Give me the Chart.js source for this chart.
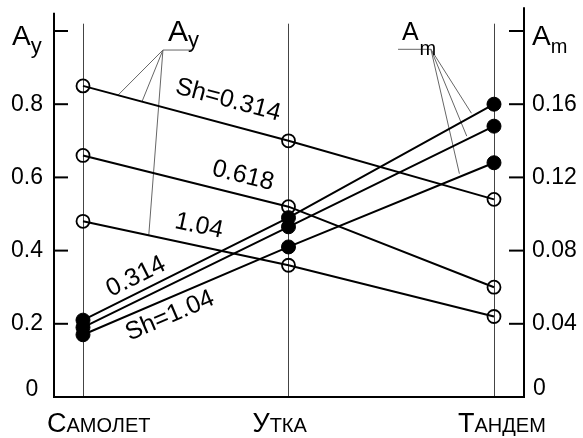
<!DOCTYPE html>
<html>
<head>
<meta charset="utf-8">
<script src="https://cdn.jsdelivr.net/npm/chart.js@4/dist/chart.umd.min.js"></script>
<style>
  html, body { margin: 0; padding: 0; background: #fff; }
  #wrap { width: 583px; height: 438px; }
</style>
</head>
<body>
<div id="wrap"><canvas id="c" width="583" height="438"></canvas></div>
<script>
// Aircraft layouts along the horizontal axis
const categories = ['Самолет', 'Утка', 'Тандем'];
// Sh values that label each curve
const shValues = ['0.314', '0.618', '1.04'];

// A_y (left axis) — open circles
const ay_sh0314 = [0.85, 0.70, 0.54];
const ay_sh0618 = [0.66, 0.52, 0.30];
const ay_sh104  = [0.48, 0.36, 0.22];

// A_m (right axis) — filled circles
const am_sh0314 = [0.042, 0.098, 0.160];
const am_sh0618 = [0.038, 0.093, 0.148];
const am_sh104  = [0.034, 0.082, 0.128];

// Tick labels
const ayTickLabels = ['0', '0.2', '0.4', '0.6', '0.8', ''];
const amTickLabels = ['0', '0.04', '0.08', '0.12', '0.16', ''];

const FONT = "'Liberation Sans', Arial, sans-serif";
const toPoints = arr => arr.map((v, i) => ({ x: i, y: v }));

function openSeries(arr) {
  return {
    data: toPoints(arr), yAxisID: 'y',
    borderColor: '#000', borderWidth: 2, tension: 0,
    pointRadius: 6.5, pointBorderWidth: 1.8,
    pointBorderColor: '#000', pointBackgroundColor: 'rgba(0,0,0,0)'
  };
}
function filledSeries(arr) {
  return {
    data: toPoints(arr), yAxisID: 'y2',
    borderColor: '#000', borderWidth: 2, tension: 0,
    pointRadius: 7, pointBorderWidth: 1,
    pointBorderColor: '#000', pointBackgroundColor: '#000'
  };
}

// pixel point on a series polyline at fractional category position t
function onLine(arr, t, xs, ys) {
  const i = Math.min(Math.floor(t), arr.length - 2);
  const f = t - i;
  const v = arr[i] + (arr[i + 1] - arr[i]) * f;
  return { x: xs.getPixelForValue(t), y: ys.getPixelForValue(v) };
}
function segAngle(arr, i, xs, ys) {
  const dx = xs.getPixelForValue(i + 1) - xs.getPixelForValue(i);
  const dy = ys.getPixelForValue(arr[i + 1]) - ys.getPixelForValue(arr[i]);
  return Math.atan2(dy, dx);
}

const decor = {
  id: 'decor',
  beforeDatasetsDraw(chart) {
    const { ctx, chartArea: a, scales: { x, y, y2 } } = chart;
    ctx.save();

    // vertical lines at each category
    ctx.strokeStyle = '#444';
    ctx.lineWidth = 1;
    categories.forEach((c, i) => {
      const px = Math.round(x.getPixelForValue(i)) + 0.5;
      ctx.beginPath();
      ctx.moveTo(px, y.getPixelForValue(1.02));
      ctx.lineTo(px, a.bottom);
      ctx.stroke();
    });

    // axis lines
    ctx.strokeStyle = '#000';
    ctx.lineWidth = 2;
    ctx.beginPath();
    ctx.moveTo(a.left, y.getPixelForValue(1.05));
    ctx.lineTo(a.left, a.bottom);
    ctx.lineTo(a.right, a.bottom);
    ctx.lineTo(a.right, y2.getPixelForValue(0.213));
    ctx.stroke();

    // inward tick marks
    y.ticks.forEach(t => {
      if (t.value <= 0) return;
      const py = y.getPixelForValue(t.value);
      ctx.beginPath(); ctx.moveTo(a.left, py); ctx.lineTo(a.left + 14, py); ctx.stroke();
    });
    y2.ticks.forEach(t => {
      if (t.value <= 0) return;
      const py = y2.getPixelForValue(t.value);
      ctx.beginPath(); ctx.moveTo(a.right - 15, py); ctx.lineTo(a.right, py); ctx.stroke();
    });

    // leader lines for the A_y and A_m callouts
    ctx.strokeStyle = '#666';
    ctx.lineWidth = 1;
    const ayAnchor = { x: x.getPixelForValue(0.389), y: y.getPixelForValue(0.948) };
    ctx.beginPath();
    ctx.moveTo(x.getPixelForValue(0.53), ayAnchor.y);
    ctx.lineTo(ayAnchor.x, ayAnchor.y);
    ctx.stroke();
    [[ay_sh0314, 0.17], [ay_sh0314, 0.287], [ay_sh104, 0.32]].forEach(([arr, t]) => {
      const p = onLine(arr, t, x, y);
      ctx.beginPath(); ctx.moveTo(ayAnchor.x, ayAnchor.y); ctx.lineTo(p.x, p.y); ctx.stroke();
    });

    const amAnchor = { x: x.getPixelForValue(1.693), y: y2.getPixelForValue(0.190) };
    ctx.beginPath();
    ctx.moveTo(x.getPixelForValue(1.533), amAnchor.y);
    ctx.lineTo(amAnchor.x, amAnchor.y);
    ctx.stroke();
    [[am_sh0314, 1.898], [am_sh0618, 1.873], [am_sh104, 1.835]].forEach(([arr, t]) => {
      const p = onLine(arr, t, x, y2);
      const dx = amAnchor.x - p.x, dy = amAnchor.y - p.y, len = Math.hypot(dx, dy);
      ctx.beginPath(); ctx.moveTo(amAnchor.x, amAnchor.y);
      ctx.lineTo(p.x + dx / len * 3, p.y + dy / len * 3); ctx.stroke();
    });

    ctx.restore();
  },
  afterDatasetsDraw(chart) {
    const { ctx, chartArea: a, scales: { x, y, y2 } } = chart;
    ctx.save();
    ctx.fillStyle = '#000';

    // zero labels sit slightly above the base line
    ctx.font = `23px ${FONT}`;
    ctx.textBaseline = 'middle';
    ctx.textAlign = 'center';
    ctx.fillText(ayTickLabels[0], 32, y.getPixelForValue(0) - 7);
    ctx.textAlign = 'left';
    ctx.fillText(amTickLabels[0], a.right + 9, y2.getPixelForValue(0) - 8);

    // axis titles with subscripts
    ctx.textBaseline = 'alphabetic';
    function titled(main, sub, px, py, big, small, subDx, subDy) {
      ctx.textAlign = 'left';
      ctx.font = `${big}px ${FONT}`;
      ctx.fillText(main, px, py);
      const w = ctx.measureText(main).width;
      ctx.font = `${small}px ${FONT}`;
      ctx.fillText(sub, px + w + subDx, py + subDy);
    }
    titled('A', 'y', 12, y.getPixelForValue(1) + 14, 28, 22, 0, 8);
    titled('A', 'm', a.right + 8, y2.getPixelForValue(0.2) + 14, 28, 20, 0, 8);
    // callouts inside the plot
    titled('A', 'y', x.getPixelForValue(0.414), y.getPixelForValue(0.972), 30, 22, 0, 6);
    titled('A', 'm', x.getPixelForValue(1.552), y2.getPixelForValue(0.195), 25, 20, 1, 15);

    // curve labels, rotated along their curves
    ctx.font = `25px ${FONT}`;
    ctx.textAlign = 'center';
    ctx.textBaseline = 'middle';
    const curveLabels = [
      { text: 'Sh=' + shValues[0], tx: 0.706, tv: 0.811, ys: y, arr: ay_sh0314 },
      { text: shValues[1],         tx: 0.779, tv: 0.604, ys: y, arr: ay_sh0618 },
      { text: shValues[2],         tx: 0.564, tv: 0.467, ys: y, arr: ay_sh104 },
      { text: shValues[0],         tx: 0.258, tv: 0.0656, ys: y2, arr: am_sh0314 },
      { text: 'Sh=' + shValues[2], tx: 0.423, tv: 0.0443, ys: y2, arr: am_sh104 }
    ];
    curveLabels.forEach(l => {
      ctx.save();
      ctx.translate(x.getPixelForValue(l.tx), l.ys.getPixelForValue(l.tv));
      ctx.rotate(segAngle(l.arr, 0, x, l.ys));
      ctx.fillText(l.text, 0, 0);
      ctx.restore();
    });

    // category names in small capitals
    ctx.textAlign = 'left';
    ctx.textBaseline = 'alphabetic';
    categories.forEach((name, i) => {
      let px = x.getPixelForValue(i) - 36;
      const py = a.bottom + 35;
      ctx.font = `27px ${FONT}`;
      ctx.fillText(name[0], px, py);
      px += ctx.measureText(name[0]).width;
      ctx.font = `20px ${FONT}`;
      ctx.fillText(name.slice(1).toUpperCase(), px, py);
    });

    ctx.restore();
  }
};

new Chart(document.getElementById('c'), {
  type: 'line',
  data: {
    datasets: [
      openSeries(ay_sh0314), openSeries(ay_sh0618), openSeries(ay_sh104),
      filledSeries(am_sh0314), filledSeries(am_sh0618), filledSeries(am_sh104)
    ]
  },
  options: {
    responsive: false,
    animation: false,
    layout: { padding: { top: 31, left: 0, right: 0, bottom: 0 } },
    plugins: { legend: { display: false }, tooltip: { enabled: false } },
    scales: {
      x: {
        type: 'linear', min: -0.1411, max: 2.146,
        grid: { display: false, drawTicks: false }, border: { display: false },
        ticks: { display: false },
        afterFit(s) { s.height = 41; }
      },
      y: {
        position: 'left', min: 0, max: 1,
        grid: { display: false, drawTicks: false }, border: { display: false },
        ticks: {
          stepSize: 0.2, padding: 11, color: '#000',
          font: { family: FONT, size: 23 },
          callback: (v) => { const k = Math.round(v / 0.2); return k === 0 ? '' : ayTickLabels[k]; }
        },
        afterFit(s) { s.width = 54; }
      },
      y2: {
        position: 'right', min: 0, max: 0.2,
        grid: { display: false, drawTicks: false }, border: { display: false },
        ticks: {
          stepSize: 0.04, padding: 8, color: '#000',
          font: { family: FONT, size: 23 },
          callback: (v) => { const k = Math.round(v / 0.04); return k === 0 ? '' : amTickLabels[k]; }
        },
        afterFit(s) { s.width = 59; }
      }
    }
  },
  plugins: [decor]
});
</script>
</body>
</html>
